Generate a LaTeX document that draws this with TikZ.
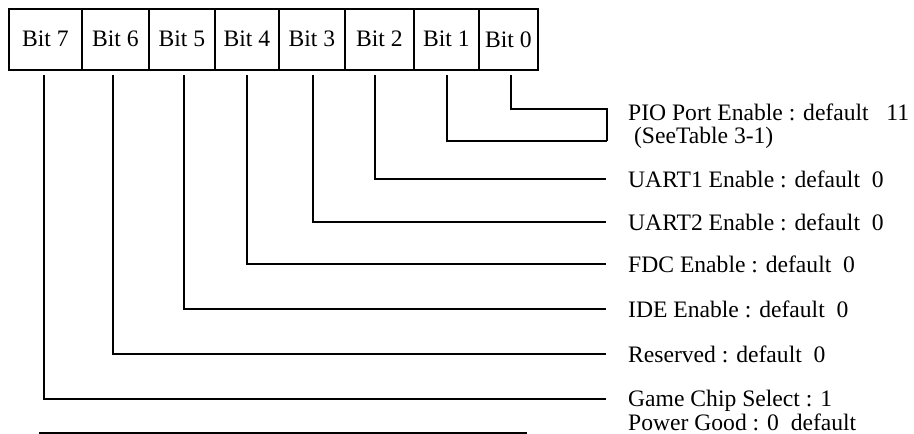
\documentclass[tikz,border=0pt]{standalone}
\usepackage{fontspec}
\setmainfont{Liberation Serif}
\begin{document}
\begin{tikzpicture}[x=1pt,y=-1pt,
  every node/.style={font=\fontsize{23.6}{26}\selectfont},
  bitbox/.style={draw,line width=1.6pt,inner sep=0pt,minimum height=61pt,anchor=north west},
  lbl/.style={anchor=base west,inner sep=0pt},
  wire/.style={line width=1.8pt}]
\useasboundingbox (0,0) rectangle (914,434);
% bit boxes
\node[bitbox,minimum width=73pt] (b7) at (8,8) {Bit 7};
\node[bitbox,minimum width=67pt] (b6) at (81,8) {Bit 6};
\node[bitbox,minimum width=66pt] (b5) at (148,8) {Bit 5};
\node[bitbox,minimum width=64pt] (b4) at (214,8) {Bit 4};
\node[bitbox,minimum width=66pt] (b3) at (278,8) {Bit 3};
\node[bitbox,minimum width=69pt] (b2) at (344,8) {Bit 2};
\node[bitbox,minimum width=65pt] (b1) at (413,8) {Bit 1};
\node[bitbox,minimum width=59pt] (b0) at (478,8) {Bit 0};
% wire starts
\coordinate (s7) at (44,75);
\coordinate (s6) at (113,75);
\coordinate (s5) at (184,75);
\coordinate (s4) at (247,75);
\coordinate (s3) at (313,75);
\coordinate (s2) at (375,75);
\coordinate (s1) at (447,75);
\coordinate (s0) at (511,75);
% wire ends
\coordinate (k0) at (607,109);
\coordinate (e1) at (607,141);
\coordinate (e2) at (606,179);
\coordinate (e3) at (606,222);
\coordinate (e4) at (606,264);
\coordinate (e5) at (606,309);
\coordinate (e6) at (606,354);
\coordinate (e7) at (606,399);
% labels
\node[lbl] (l0) at (628,120) {PIO Port Enable : default \ \ 11};
\node[lbl] (l0b) at (628,143) {\ (SeeTable 3-1)};
\node[lbl] (l2) at (628,187) {UART1 Enable : default \ 0};
\node[lbl] (l3) at (628,230) {UART2 Enable : default \ 0};
\node[lbl] (l4) at (628,272) {FDC Enable : default \ 0};
\node[lbl] (l5) at (628,317) {IDE Enable : default \ 0};
\node[lbl] (l6) at (628,362) {Reserved : default \ 0};
\node[lbl] (l7) at (628,406) {Game Chip Select : 1};
\node[lbl,text depth=0pt] (l8) at (628,430) {Power Good : 0 \ default};
% wires
\draw[wire] (s0) |- (k0) -- (e1);
\draw[wire] (s1) |- (e1);
\draw[wire] (s2) |- (e2);
\draw[wire] (s3) |- (e3);
\draw[wire] (s4) |- (e4);
\draw[wire] (s5) |- (e5);
\draw[wire] (s6) |- (e6);
\draw[wire] (s7) |- (e7);
% bottom rule
\coordinate (r1) at (39,433);
\coordinate (r2) at (527,433);
\draw[line width=1.2pt] (r1) -- (r2);
\end{tikzpicture}
\end{document}
